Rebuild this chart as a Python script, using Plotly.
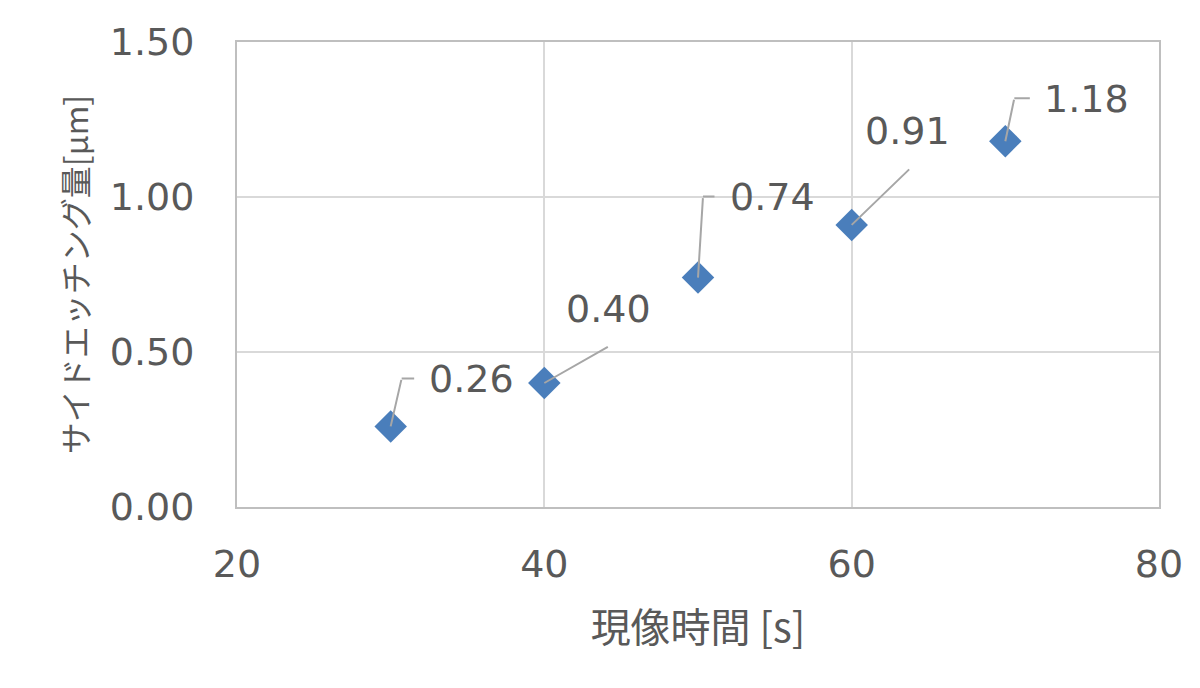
import plotly.graph_objects as go

# Data
times = [30, 40, 50, 60, 70]
side_etch = [0.26, 0.40, 0.74, 0.91, 1.18]
labels = ["0.26", "0.40", "0.74", "0.91", "1.18"]

x_title = "現像時間 [s]"
y_title = "サイドエッチング量[μm]"

# Label layout (pixel offsets from each point) - styling
# (text_dx, text_dy, xanchor, elbow(dx,dy) or None, end(dx,dy))
label_style = [
    (36, -47, "left", (11, -48), (25, -48)),
    (64, -74, "center", None, (65, -37)),
    (30, -81, "left", (5, -81), (18, -81)),
    (56, -94, "center", None, (59, -57)),
    (37, -42, "left", (9, -43), (26, -43)),
]

TEXT = "#595959"
NUMFONT = "DejaVu Sans, Noto Sans CJK JP, sans-serif"
JPFONT = "Noto Sans CJK JP, DejaVu Sans, sans-serif"
LEADER = "#a6a6a6"

fig = go.Figure()
fig.add_trace(go.Scatter(
    x=times, y=side_etch, mode="markers",
    marker=dict(symbol="diamond", size=25, color="#4a7ebb", line=dict(width=0)),
    showlegend=False, hoverinfo="skip",
))

annotations = []
for xi, yi, lab, (tdx, tdy, anc, elbow, end) in zip(times, side_etch, labels, label_style):
    if elbow is None:
        annotations.append(dict(x=xi, y=yi, xref="x", yref="y", text="", showarrow=True,
                                arrowhead=0, arrowwidth=2, arrowcolor=LEADER,
                                ax=end[0], ay=end[1], standoff=0, startstandoff=0))
    else:
        annotations.append(dict(x=xi, y=yi, xref="x", yref="y", text="", showarrow=True,
                                arrowhead=0, arrowwidth=2, arrowcolor=LEADER,
                                ax=elbow[0], ay=elbow[1], standoff=0, startstandoff=0))
        annotations.append(dict(x=xi, y=yi, xref="x", yref="y", text="", showarrow=True,
                                arrowhead=0, arrowwidth=2, arrowcolor=LEADER,
                                xshift=elbow[0], yshift=-elbow[1],
                                ax=end[0] - elbow[0], ay=0.001, standoff=0, startstandoff=0))
    annotations.append(dict(x=xi, y=yi, xref="x", yref="y", text=lab, showarrow=False,
                            xanchor=anc, yanchor="middle", xshift=tdx, yshift=-tdy,
                            font=dict(family=NUMFONT, size=38, color=TEXT)))

fig.update_layout(
    width=1200, height=688,
    margin=dict(l=229, r=49, t=31, b=189),
    paper_bgcolor="white", plot_bgcolor="white",
    font=dict(family=NUMFONT, color=TEXT),
    annotations=annotations,
    xaxis=dict(
        range=[20, 80], tickvals=[20, 40, 60, 80], ticktext=["20", "40", "60", "80"],
        showgrid=True, gridcolor="#d9d9d9", gridwidth=2,
        showline=True, linecolor="#bfbfbf", linewidth=2, mirror=True,
        zeroline=False, ticks="", ticklabelstandoff=22,
        tickfont=dict(family=NUMFONT, size=38, color=TEXT),
        title=dict(text=x_title, standoff=29, font=dict(family=JPFONT, size=40, color=TEXT)),
    ),
    yaxis=dict(
        range=[0, 1.5], tickvals=[0, 0.5, 1.0, 1.5], tickformat=".2f",
        showgrid=True, gridcolor="#d9d9d9", gridwidth=2,
        showline=True, linecolor="#bfbfbf", linewidth=2, mirror=True,
        zeroline=False, ticks="", ticklabelstandoff=33,
        tickfont=dict(family=NUMFONT, size=38, color=TEXT),
        title=dict(text=y_title, standoff=12, font=dict(family=JPFONT, size=32, color=TEXT)),
    ),
)

fig.write_html("out.html")
